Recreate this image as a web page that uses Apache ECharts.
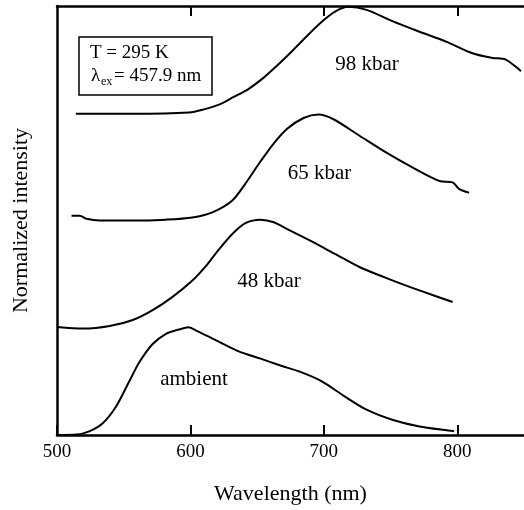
<!DOCTYPE html>
<html>
<head>
<meta charset="utf-8">
<script src="https://cdn.jsdelivr.net/npm/echarts@6/dist/echarts.min.js"></script>
<style>html,body{margin:0;padding:0;background:#fff;}#c{width:524px;height:510px;}</style>
</head>
<body>
<div id="c"></div>
<script>
// ---- data ----
const xTickValues = [500, 600, 700, 800];
const topTickValues = [600, 700, 800];

const ambientWl = [500, 514.7, 524.6, 534.5, 544.4, 554.3, 561.8, 571.7, 581.7, 591.6, 598.5, 604.0, 618.9, 636.2, 652.6, 667.5, 682.4, 698.5, 714.6, 732.0, 751.8, 771.7, 797.7];
const ambientI  = [0, 0.1, 0.9, 2.8, 6.7, 12.6, 17.0, 21.2, 23.6, 24.6, 25.1, 24.4, 22.1, 19.5, 17.8, 16.2, 14.7, 12.5, 9.2, 5.9, 3.5, 2.0, 0.9];

const kbar48Wl = [500, 519.6, 539.5, 556.8, 571.7, 586.6, 601.5, 611.4, 618.9, 631.2, 641.2, 652.6, 662.5, 672.5, 689.8, 708.4, 727.0, 751.8, 771.7, 796.5];
const kbar48I  = [25.2, 24.8, 25.4, 26.8, 29.1, 32.2, 36.0, 39.3, 42.3, 46.8, 49.4, 50.2, 49.6, 48.0, 45.3, 42.2, 39.1, 36.0, 33.7, 31.0];

const kbar65Wl = [510.9, 517.1, 522.1, 532.0, 556.8, 581.7, 601.5, 616.4, 631.2, 641.2, 652.6, 662.5, 672.5, 684.8, 696.0, 707.2, 727.0, 746.9, 766.7, 786.6, 796.5, 801.5, 808.9];
const kbar65I  = [51.1, 51.1, 50.4, 50.0, 50.0, 50.2, 50.7, 51.9, 54.6, 58.6, 63.8, 68.0, 71.4, 73.9, 74.7, 73.6, 69.7, 65.8, 62.3, 59.2, 58.9, 57.3, 56.5];

const kbar98Wl = [514.1, 556.8, 599.0, 610.0, 621.4, 632.5, 643.7, 654.9, 666.0, 677.2, 688.3, 699.5, 708.4, 718.1, 732.0, 751.8, 771.7, 791.6, 811.4, 826.3, 836.3, 847.7];
const kbar98I  = [74.9, 74.9, 75.2, 75.9, 77.0, 78.8, 80.7, 83.3, 86.4, 89.8, 93.3, 96.6, 98.7, 99.8, 99.1, 96.4, 94.0, 91.7, 89.0, 87.9, 87.5, 84.8];

const seriesNames = ['ambient', '48 kbar', '65 kbar', '98 kbar'];

// ---- chart ----
const FONT = '"Liberation Serif", "DejaVu Serif", serif';
const pairs = (xs, ys) => xs.map((x, i) => [x, ys[i]]);
const chart = echarts.init(document.getElementById('c'), null, {renderer: 'canvas'});

const lineStyle = {color: '#000', width: 2};
const mk = (name, xs, ys) => ({
  name, type: 'line', data: pairs(xs, ys), xAxisIndex: 0, yAxisIndex: 0,
  showSymbol: false, smooth: 0.3, lineStyle, silent: true, animation: false
});

const axisLineStyle = {show: true, lineStyle: {color: '#000', width: 2.5}};

chart.setOption({
  backgroundColor: '#fff',
  animation: false,
  grid: {left: 57, top: 6, width: 470, height: 431, containLabel: false},
  xAxis: [{
    type: 'value', min: 500, max: 850, position: 'bottom',
    axisLine: axisLineStyle,
    axisTick: {show: true, inside: true, length: 10, customValues: xTickValues, lineStyle: {color: '#000', width: 2}},
    axisLabel: {show: true, customValues: xTickValues, margin: 8, color: '#000', fontSize: 19, fontFamily: FONT},
    splitLine: {show: false},
    name: 'Wavelength (nm)', nameLocation: 'middle', nameGap: 48,
    nameTextStyle: {color: '#000', fontSize: 22, fontFamily: FONT}
  }, {
    type: 'value', min: 500, max: 850, position: 'top',
    axisLine: axisLineStyle,
    axisTick: {show: true, inside: true, length: 10, customValues: topTickValues, lineStyle: {color: '#000', width: 2}},
    axisLabel: {show: false},
    splitLine: {show: false}
  }],
  yAxis: [{
    type: 'value', min: 0, max: 100, position: 'left',
    axisLine: axisLineStyle,
    axisTick: {show: false}, axisLabel: {show: false}, splitLine: {show: false},
    name: 'Normalized intensity', nameLocation: 'middle', nameGap: 25,
    nameTextStyle: {color: '#000', fontSize: 22, fontFamily: FONT}
  }],
  series: [
    mk(seriesNames[0], ambientWl, ambientI),
    mk(seriesNames[1], kbar48Wl, kbar48I),
    mk(seriesNames[2], kbar65Wl, kbar65I),
    mk(seriesNames[3], kbar98Wl, kbar98I)
  ],
  graphic: [
    {type: 'rect', shape: {x: 79, y: 37, width: 133, height: 58}, style: {fill: 'none', stroke: '#000', lineWidth: 1.5}, silent: true},
    {type: 'text', x: 90, y: 53, style: {text: 'T = 295 K', fill: '#000', font: '19px ' + FONT, textAlign: 'left', textVerticalAlign: 'middle'}},
    {type: 'text', x: 91, y: 76, style: {text: 'λ', fill: '#000', font: '19px ' + FONT, textAlign: 'left', textVerticalAlign: 'middle'}},
    {type: 'text', x: 101, y: 82, style: {text: 'ex', fill: '#000', font: '12px ' + FONT, textAlign: 'left', textVerticalAlign: 'middle'}},
    {type: 'text', x: 114, y: 76, style: {text: '= 457.9 nm', fill: '#000', font: '19px ' + FONT, textAlign: 'left', textVerticalAlign: 'middle'}},
    {type: 'text', x: 367, y: 64.5, style: {text: seriesNames[3], fill: '#000', font: '21px ' + FONT, textAlign: 'center', textVerticalAlign: 'middle'}},
    {type: 'text', x: 319.5, y: 173, style: {text: seriesNames[2], fill: '#000', font: '21px ' + FONT, textAlign: 'center', textVerticalAlign: 'middle'}},
    {type: 'text', x: 269, y: 281, style: {text: seriesNames[1], fill: '#000', font: '21px ' + FONT, textAlign: 'center', textVerticalAlign: 'middle'}},
    {type: 'text', x: 194, y: 379, style: {text: seriesNames[0], fill: '#000', font: '21px ' + FONT, textAlign: 'center', textVerticalAlign: 'middle'}}
  ]
});
</script>
</body>
</html>
